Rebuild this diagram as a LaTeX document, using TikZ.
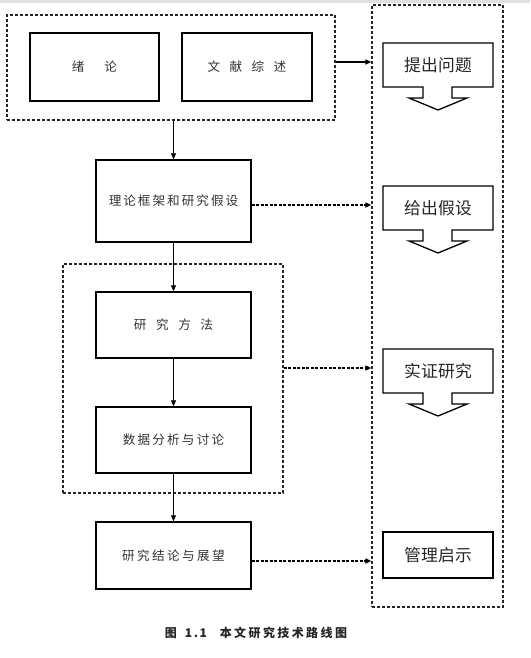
\documentclass[tikz,border=0pt]{standalone}
\usepackage{fontspec}
\usetikzlibrary{arrows.meta,calc}
\newfontfamily\cjk{Noto Sans CJK SC}
\newcommand\gp[1]{\kern#1pt}
\tikzset{
  box/.style={draw=black, line width=1.4pt, minimum width=155pt, minimum height=66pt, inner sep=0pt, font=\cjk\fontsize{12.6}{14}\selectfont, text=black!80},
  dbox/.style={draw=black!85, line width=1.2pt, dash pattern=on 3pt off 2pt, inner sep=0pt},
  arr/.style={line width=0.8pt, -{Triangle[length=6pt,width=5pt]}},
  darr/.style={line width=1.5pt, dash pattern=on 3pt off 1.5pt, -{Triangle[length=6pt,width=5pt]}},
  callout/.style={draw=black, line width=1.3pt, fill=white, line join=miter},
  ctext/.style={font=\cjk\fontsize{16.8}{18}\selectfont, text=black!85, inner sep=0pt},
}
\newcommand\callout[3]{%
  \draw[callout] (383,#2) -- (493,#2) -- (493,#2+44) -- (452,#2+44) -- (452,#2+55) -- (467,#2+55) -- (438,#2+67) -- (409,#2+55) -- (423,#2+55) -- (423,#2+44) -- (383,#2+44) -- cycle;
  \node[ctext] (#1) at (438,#2+22.5) {#3};
}
\begin{document}
\begin{tikzpicture}[x=1pt,y=-1pt]
\useasboundingbox (0,0) rectangle (530,658);
\fill[black!12] (0,0) rectangle (530,3);
% containers
\node[dbox, minimum width=328pt, minimum height=105pt] (topdash) at (171,67.5) {};
\node[dbox, minimum width=220pt, minimum height=229pt] (middash) at (173,378.5) {};
\node[dbox, minimum width=131pt, minimum height=602pt] (rbox) at (437.5,306) {};
% left boxes
\node[box, minimum width=129pt, minimum height=68pt] (xulun) at (94.5,67) {绪\gp{20}论};
\node[box, minimum width=130pt, minimum height=68pt] (wenxian) at (247,67) {文\gp{9.4}献\gp{9.4}综\gp{9.4}述};
\node[box, minimum height=82pt] (lilun) at (173.5,201) {理\gp{2}论\gp{2}框\gp{2}架\gp{2}和\gp{2}研\gp{2}究\gp{2}假\gp{2}设};
\node[box] (fangfa) at (173.5,325) {研\gp{9.6}究\gp{9.6}方\gp{9.6}法};
\node[box] (shuju) at (173.5,440) {数\gp{2.2}据\gp{2.2}分\gp{2.2}析\gp{2.2}与\gp{2.2}讨\gp{2.2}论};
\node[box, minimum height=67pt] (jielun) at (173.5,555.5) {研\gp{2.4}究\gp{2.4}结\gp{2.4}论\gp{2.4}与\gp{2.4}展\gp{2.4}望};
% right column
\callout{tichu}{43}{提\gp{0.2}出\gp{0.2}问\gp{0.2}题}
\callout{geichu}{186}{给\gp{0.2}出\gp{0.2}假\gp{0.2}设}
\callout{shizheng}{349}{实\gp{0.2}证\gp{0.2}研\gp{0.2}究}
\node[box, ctext, minimum width=110pt, minimum height=46pt] (guanli) at (438,555) {管\gp{0.2}理\gp{0.2}启\gp{0.2}示};
% connectors
\draw[arr, line width=1.4pt] ([yshift=5.5pt]topdash.east) -- ([yshift=5.5pt]topdash.east -| rbox.west);
\draw[arr] (topdash.south -| lilun.north) -- (lilun.north);
\draw[arr] (lilun.south) -- (fangfa.north);
\draw[arr] (fangfa.south) -- (shuju.north);
\draw[arr] (shuju.south) -- (jielun.north);
\draw[darr] ([yshift=-4pt]lilun.east) -- ([yshift=-4pt]lilun.east -| rbox.west);
\draw[darr] ([yshift=10.5pt]middash.east) -- ([yshift=10.5pt]middash.east -| rbox.west);
\draw[darr] ([yshift=-5.5pt]jielun.east) -- ([yshift=-5.5pt]jielun.east -| rbox.west);
% caption
\node[font=\cjk\bfseries\fontsize{12}{13}\selectfont, text=black!85, inner sep=0pt] (cap) at (256,633) {图\gp{8}1\gp{1.5}.\gp{1.5}1\gp{13}本\gp{2.4}文\gp{2.4}研\gp{2.4}究\gp{2.4}技\gp{2.4}术\gp{2.4}路\gp{2.4}线\gp{2.4}图};
\end{tikzpicture}
\end{document}
